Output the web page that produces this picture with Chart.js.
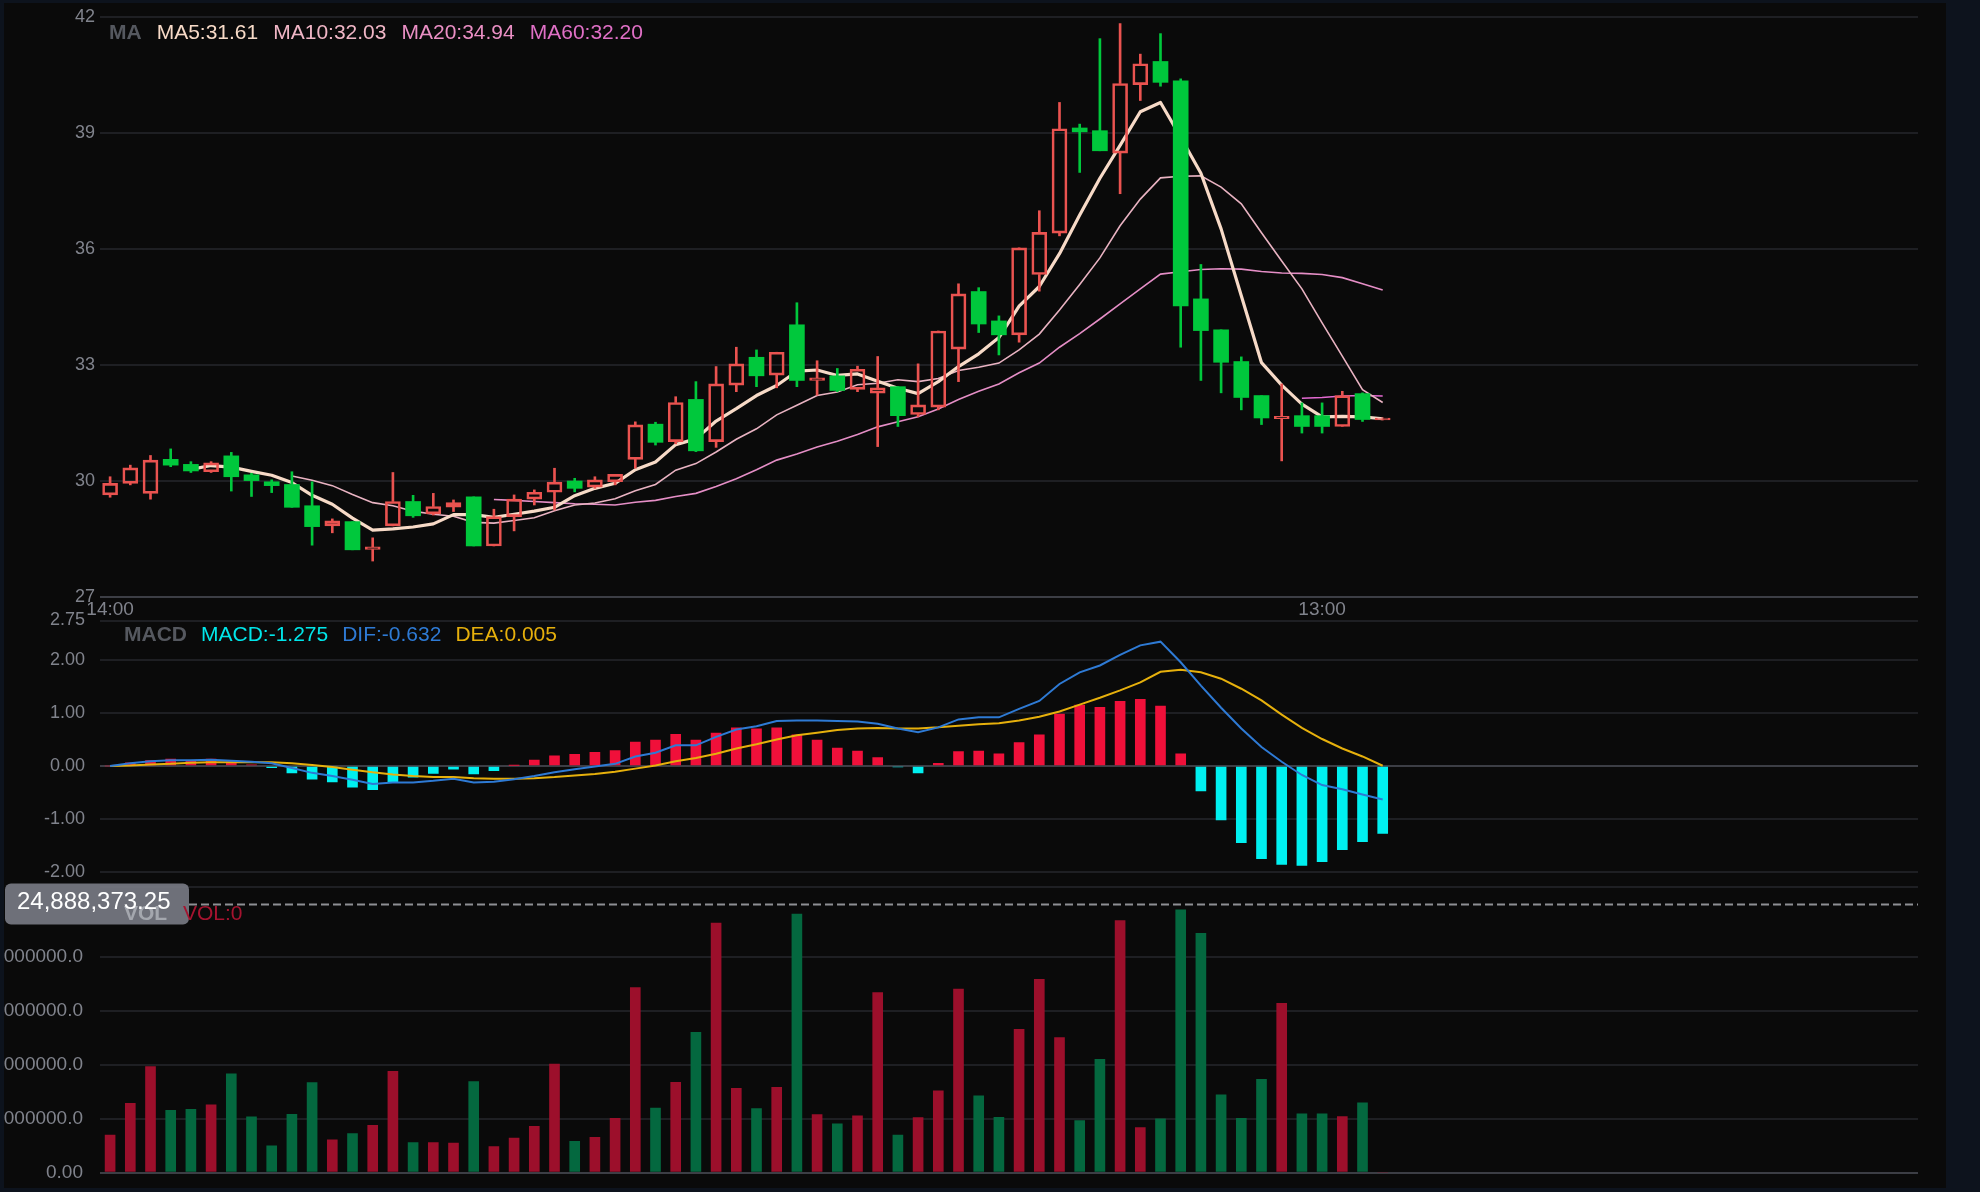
<!DOCTYPE html>
<html>
<head>
<meta charset="utf-8">
<script src="https://cdn.jsdelivr.net/npm/chart.js@4.4.1/dist/chart.umd.min.js"></script>
<style>
  html, body { margin: 0; width: 1980px; height: 1192px; overflow: hidden; background: #0d131d; }
  #panel { position: absolute; left: 4px; top: 3px; width: 1942px; height: 1185px; background: #0a0a0a; overflow: hidden; }
  canvas { position: absolute; left: -4px; }
  #cPrice { top: -3px; }
  #cMacd { top: 597px; }
  #cVol { top: 867px; }
</style>
</head>
<body>
<div id="panel">
  <canvas id="cPrice" width="1980" height="625"></canvas>
  <canvas id="cMacd" width="1980" height="300"></canvas>
  <canvas id="cVol" width="1980" height="318"></canvas>
</div>
<script>
// ---- data ----
const SLOTS = 90;                 // candle slots on the time axis
const tickIdx = [0, 60];
const tickText = ['14:00', '13:00'];

const openP = [29.64,29.94,29.68,30.56,30.43,30.24,30.65,30.16,29.98,29.91,
  29.36,28.84,28.95,28.23,28.84,29.47,29.15,29.32,29.59,28.32,
  29.08,29.53,29.71,30.00,29.84,29.98,30.56,31.47,31.02,32.11,
  31.02,32.48,33.20,32.74,34.04,32.60,32.72,32.37,32.27,32.44,
  31.72,31.91,33.41,34.90,34.14,33.78,35.34,36.41,39.13,39.06,
  38.48,40.25,40.85,40.35,34.71,33.91,33.09,32.21,31.61,31.69,
  31.69,31.41,32.26,31.58];
const highP = [30.11,30.41,30.66,30.83,30.50,30.50,30.74,30.20,30.03,30.24,
  29.98,29.02,28.95,28.53,30.22,29.63,29.68,29.51,29.59,29.27,
  29.64,29.77,30.33,30.07,30.11,30.17,31.53,31.52,32.18,32.57,
  32.96,33.46,33.39,33.33,34.61,33.11,32.91,32.97,33.22,32.44,
  33.03,33.88,35.10,35.00,34.27,36.03,36.99,39.79,39.23,41.44,
  41.83,41.04,41.57,40.40,35.60,33.91,33.21,32.21,32.51,32.02,
  32.02,32.32,32.28,31.63];
const lowP = [29.58,29.90,29.53,30.37,30.22,30.22,29.74,29.60,29.70,29.32,
  28.34,28.66,28.22,27.93,28.84,29.06,29.12,29.21,28.32,28.32,
  28.71,29.38,29.25,29.72,29.81,29.90,30.33,30.93,30.96,30.76,
  30.87,32.31,32.44,32.41,32.44,32.22,32.31,32.31,30.89,31.41,
  31.66,31.84,32.57,33.84,33.26,33.59,34.91,36.34,37.98,38.54,
  37.43,39.84,40.21,33.46,32.60,32.28,31.84,31.46,30.52,31.24,
  31.24,31.41,31.54,31.58];
const closeP = [29.94,30.34,30.54,30.41,30.26,30.47,30.11,30.01,29.88,29.32,
  28.82,28.97,28.22,28.30,29.47,29.10,29.34,29.44,28.32,29.08,
  29.53,29.71,29.97,29.81,30.03,30.17,31.45,31.00,32.03,30.78,
  32.51,33.03,32.72,33.33,32.60,32.67,32.34,32.89,32.41,31.69,
  31.97,33.88,34.84,34.06,33.78,36.03,36.43,39.11,39.03,38.54,
  40.28,40.79,40.31,34.53,33.89,33.07,32.16,31.63,31.67,31.41,
  31.41,32.21,31.59,31.63];

const ma5 = [null,null,null,null,30.30,30.40,30.36,30.25,30.15,29.96,
  29.63,29.40,29.04,28.73,28.76,28.81,28.89,29.13,29.13,29.06,
  29.14,29.22,29.32,29.62,29.81,29.94,30.29,30.49,30.94,31.09,
  31.55,31.87,32.21,32.47,32.84,32.87,32.73,32.77,32.58,32.40,
  32.26,32.57,32.96,33.29,33.71,34.52,35.03,35.88,36.88,37.83,
  38.68,39.55,39.79,38.89,37.96,36.52,34.79,33.06,32.48,31.99,
  31.66,31.67,31.66,31.61];
const ma10 = [null,null,null,null,null,null,null,null,null,30.13,
  30.02,29.88,29.65,29.44,29.36,29.22,29.14,29.09,28.93,28.91,
  28.98,29.05,29.23,29.38,29.43,29.54,29.75,29.91,30.28,30.45,
  30.75,31.08,31.35,31.71,31.96,32.21,32.30,32.49,32.53,32.62,
  32.57,32.65,32.86,32.94,33.05,33.39,33.80,34.42,35.08,35.77,
  36.60,37.29,37.84,37.88,37.89,37.60,37.17,36.42,35.69,34.97,
  34.09,33.23,32.36,32.03];
const ma20 = [null,null,null,null,null,null,null,null,null,null,
  null,null,null,null,null,null,null,null,null,29.52,
  29.50,29.47,29.44,29.41,29.40,29.38,29.45,29.50,29.60,29.68,
  29.86,30.06,30.29,30.54,30.70,30.88,31.03,31.20,31.40,31.53,
  31.66,31.86,32.11,32.32,32.51,32.80,33.05,33.46,33.81,34.19,
  34.58,34.97,35.35,35.41,35.47,35.49,35.48,35.42,35.38,35.37,
  35.34,35.26,35.10,34.94];
const ma60 = [null,null,null,null,null,null,null,null,null,null,
  null,null,null,null,null,null,null,null,null,null,
  null,null,null,null,null,null,null,null,null,null,
  null,null,null,null,null,null,null,null,null,null,
  null,null,null,null,null,null,null,null,null,null,
  null,null,null,null,null,null,null,null,null,32.14,
  32.16,32.20,32.21,32.20];

const dif = [0.00,0.05,0.09,0.11,0.11,0.12,0.10,0.08,0.05,-0.04,
  -0.13,-0.19,-0.26,-0.34,-0.31,-0.31,-0.28,-0.24,-0.31,-0.30,
  -0.25,-0.19,-0.12,-0.06,-0.01,0.04,0.18,0.25,0.39,0.39,
  0.55,0.69,0.75,0.85,0.86,0.86,0.85,0.84,0.80,0.71,
  0.64,0.73,0.88,0.92,0.92,1.08,1.23,1.55,1.77,1.90,
  2.10,2.28,2.35,1.96,1.52,1.10,0.71,0.36,0.08,-0.17,
  -0.36,-0.44,-0.54,-0.632];
const dea = [0.00,0.01,0.03,0.04,0.06,0.07,0.07,0.07,0.07,0.05,
  0.02,-0.02,-0.07,-0.12,-0.16,-0.19,-0.21,-0.21,-0.23,-0.24,
  -0.24,-0.23,-0.21,-0.18,-0.15,-0.11,-0.05,0.01,0.09,0.15,
  0.23,0.33,0.41,0.50,0.58,0.63,0.68,0.71,0.72,0.71,
  0.71,0.73,0.76,0.79,0.81,0.86,0.93,1.03,1.16,1.29,
  1.43,1.58,1.78,1.82,1.77,1.65,1.46,1.24,0.97,0.72,
  0.51,0.33,0.18,0.005];
const macdHist = [0.00,0.06,0.10,0.13,0.10,0.13,0.08,0.02,-0.03,-0.13,
  -0.25,-0.30,-0.40,-0.45,-0.30,-0.21,-0.14,-0.06,-0.15,-0.09,
  0.01,0.11,0.19,0.22,0.26,0.29,0.45,0.49,0.60,0.49,
  0.62,0.72,0.70,0.72,0.59,0.49,0.34,0.28,0.16,-0.02,
  -0.13,0.05,0.27,0.28,0.23,0.44,0.59,0.98,1.15,1.11,
  1.22,1.26,1.13,0.23,-0.47,-1.02,-1.45,-1.75,-1.86,-1.88,
  -1.81,-1.58,-1.43,-1.275];

const volume = [3460000,6420000,9810000,5770000,5860000,6270000,9140000,5150000,2470000,5400000,
  8330000,3020000,3610000,4380000,9380000,2780000,2780000,2720000,8430000,2410000,
  3180000,4290000,10060000,2900000,3270000,5030000,17130000,5960000,8360000,12990000,
  23120000,7810000,5930000,7900000,23950000,5370000,4510000,5250000,16670000,3460000,
  5090000,7560000,17010000,7100000,5120000,13270000,17900000,12500000,4810000,10490000,
  23360000,4170000,4970000,24350000,22160000,7190000,5030000,8640000,15680000,5430000,
  5430000,5190000,6450000,0];

const priceTicks = [27, 30, 33, 36, 39, 42];
const macdRange = [-2.28, 2.75];
const macdTicks = [-2, -1, 0, 1, 2, 2.75];
const volTicks = [0, 5000000, 10000000, 15000000, 20000000];
const volCross = 24888373.25;

// ---- helpers ----
const FONT = '"Liberation Sans", Arial, sans-serif';
const UP = '#ea5350', DOWN = '#00c83c';
const N = closeP.length;
const isUp = closeP.map((c, i) => c >= openP[i]);
const candleCol = isUp.map(u => u ? UP : DOWN);
const pts = arr => arr.map((v, i) => ({ x: i, y: v }));

// shared time axis; the bottom gap below each panel is set through afterFit
function xScale(showLabels, gap) {
  return {
    type: 'linear', min: -0.5, max: SLOTS - 0.5, offset: false,
    grid: { display: false, offset: false }, border: { display: false },
    afterBuildTicks: sc => { sc.ticks = tickIdx.map(v => ({ value: v })); },
    afterFit: sc => { sc.height = gap; },
    ticks: {
      display: showLabels,
      autoSkip: false, maxRotation: 0, padding: -7, color: '#80838c',
      font: { family: FONT, size: 19 },
      callback: v => { const k = tickIdx.indexOf(v); return k < 0 ? '' : tickText[k]; }
    }
  };
}

function yScale(min, max, ticks, fmt, pad, size, baseVal) {
  return {
    type: 'linear', min, max, position: 'left',
    // fixed axis width, and no extra room reserved for the end labels
    afterFit: s => { s.width = 100; s.paddingTop = 0; s.paddingBottom = 0; },
    afterBuildTicks: s => { s.ticks = ticks.map(v => ({ value: v })); },
    grid: {
      drawTicks: false, lineWidth: 2,
      color: c => (c.tick && c.tick.value === baseVal) ? '#3c3e45' : '#1e1f23'
    },
    border: { display: false },
    ticks: { padding: pad, color: '#80838c', font: { family: FONT, size }, callback: fmt }
  };
}

function drawLegend(ctx, x, y, items, gap) {
  ctx.save();
  ctx.textBaseline = 'middle';
  ctx.textAlign = 'left';
  items.forEach(([t, c, b]) => {
    ctx.font = (b ? 'bold ' : '') + '21px ' + FONT;
    ctx.fillStyle = c;
    ctx.fillText(t, x, y);
    x += ctx.measureText(t).width + gap;
  });
  ctx.restore();
}

const base = {
  responsive: false, animation: false, events: [],
  plugins: { legend: { display: false }, tooltip: { enabled: false } }
};

// ---- price panel ----
new Chart(document.getElementById('cPrice'), {
  type: 'bar',
  data: {
    datasets: [
      { type: 'bar', order: 0, grouped: false, barThickness: 2,
        data: highP.map((h, i) => ({ x: i, y: [Math.max(openP[i], closeP[i]), h] })),
        backgroundColor: candleCol },
      { type: 'bar', order: 0, grouped: false, barThickness: 2,
        data: lowP.map((l, i) => ({ x: i, y: [l, Math.min(openP[i], closeP[i])] })),
        backgroundColor: candleCol },
      { type: 'bar', order: 0, grouped: false, barThickness: 15, borderSkipped: false,
        data: openP.map((o, i) => ({ x: i, y: [o, closeP[i]] })),
        backgroundColor: isUp.map(u => u ? 'rgba(0,0,0,0)' : DOWN),
        borderColor: candleCol,
        borderWidth: isUp.map(u => u ? 2 : 0) },
      { type: 'line', order: 1, data: pts(ma5), borderColor: '#f7dac7', borderWidth: 3.2,
        pointRadius: 0, tension: 0, borderJoinStyle: 'round' },
      { type: 'line', order: 1, data: pts(ma10), borderColor: '#e9b3c2', borderWidth: 1.6,
        pointRadius: 0, tension: 0 },
      { type: 'line', order: 1, data: pts(ma20), borderColor: '#e58ec6', borderWidth: 1.6,
        pointRadius: 0, tension: 0 },
      { type: 'line', order: 1, data: pts(ma60), borderColor: '#e46ad2', borderWidth: 1.6,
        pointRadius: 0, tension: 0 }
    ]
  },
  options: {
    ...base,
    layout: { padding: { top: 17, right: 62, left: 0, bottom: 0 } },
    scales: {
      x: xScale(true, 28),
      y: yScale(27, 42, priceTicks, v => String(v), 5, 18, 27)
    }
  },
  plugins: [{
    id: 'maLegend',
    afterDraw: ch => drawLegend(ch.ctx, 109, 33, [
      ['MA', '#55585f', true],
      ['MA5:' + ma5[N - 1].toFixed(2), '#f7dac7'],
      ['MA10:' + ma10[N - 1].toFixed(2), '#f0b6c6'],
      ['MA20:' + ma20[N - 1].toFixed(2), '#ea8fc4'],
      ['MA60:' + ma60[N - 1].toFixed(2), '#e070c6']
    ], 15)
  }]
});

// ---- MACD panel ----
new Chart(document.getElementById('cMacd'), {
  type: 'bar',
  data: {
    datasets: [
      { type: 'line', order: 0, data: pts(dif), borderColor: '#2e7ad4', borderWidth: 2,
        pointRadius: 0, tension: 0 },
      { type: 'line', order: 0, data: pts(dea), borderColor: '#e6b00c', borderWidth: 2,
        pointRadius: 0, tension: 0 },
      { type: 'bar', order: 1, grouped: false, barThickness: 10,
        data: pts(macdHist),
        backgroundColor: macdHist.map(v => v >= 0 ? '#f0103a' : '#00f0f0') }
    ]
  },
  options: {
    ...base,
    layout: { padding: { top: 20.5, right: 62, left: 0, bottom: 0 } },
    scales: {
      x: xScale(false, 13.4),
      y: yScale(macdRange[0], macdRange[1], [macdRange[0], ...macdTicks],
        v => v === macdRange[0] ? '' : v.toFixed(2), 15, 18, 0)
    }
  },
  plugins: [{
    id: 'macdLegend',
    afterDraw: ch => drawLegend(ch.ctx, 124, 35, [
      ['MACD', '#55585f', true],
      ['MACD:' + macdHist[N - 1].toFixed(3), '#00e6ea'],
      ['DIF:' + dif[N - 1].toFixed(3), '#2e7ad4'],
      ['DEA:' + dea[N - 1].toFixed(3), '#e6b00c']
    ], 14)
  }]
});

// ---- volume panel ----
new Chart(document.getElementById('cVol'), {
  type: 'bar',
  data: {
    datasets: [
      { type: 'bar', grouped: false, barThickness: 10,
        data: pts(volume),
        backgroundColor: isUp.map(u => u ? '#9c0f2b' : '#04683f') }
    ]
  },
  options: {
    ...base,
    layout: { padding: { top: 34, right: 62, left: 0, bottom: 0 } },
    scales: {
      x: xScale(false, 15.5),
      y: yScale(0, volCross, volTicks, v => v === 0 ? '0.00' : v.toFixed(1), 17, 19, 0)
    }
  },
  plugins: [{
    id: 'crosshair',
    afterDraw: ch => {
      const ctx = ch.ctx;
      const y = Math.round(ch.scales.y.getPixelForValue(volCross)) + 0.5;
      ctx.save();
      ctx.strokeStyle = '#8e8f94';
      ctx.lineWidth = 2;
      ctx.setLineDash([8, 4]);
      ctx.beginPath();
      ctx.moveTo(189, y);
      ctx.lineTo(ch.chartArea.right, y);
      ctx.stroke();
      ctx.setLineDash([]);
      // value box
      ctx.fillStyle = 'rgba(118,121,130,0.93)';
      ctx.beginPath();
      ctx.roundRect(5, y - 21, 184, 41, 6);
      ctx.fill();
      ctx.textBaseline = 'middle';
      ctx.font = 'bold 21px ' + FONT;
      ctx.fillStyle = '#a4a7ae';
      ctx.fillText('VOL', 124, y + 10);
      ctx.font = '24px ' + FONT;
      ctx.fillStyle = '#ffffff';
      ctx.fillText(volCross.toLocaleString('en-US', { minimumFractionDigits: 2 }), 17, y - 2);
      ctx.font = '21px ' + FONT;
      ctx.fillStyle = '#a5132f';
      ctx.fillText('VOL:' + volume[N - 1], 183, y + 10);
      ctx.restore();
    }
  }]
});
</script>
</body>
</html>
